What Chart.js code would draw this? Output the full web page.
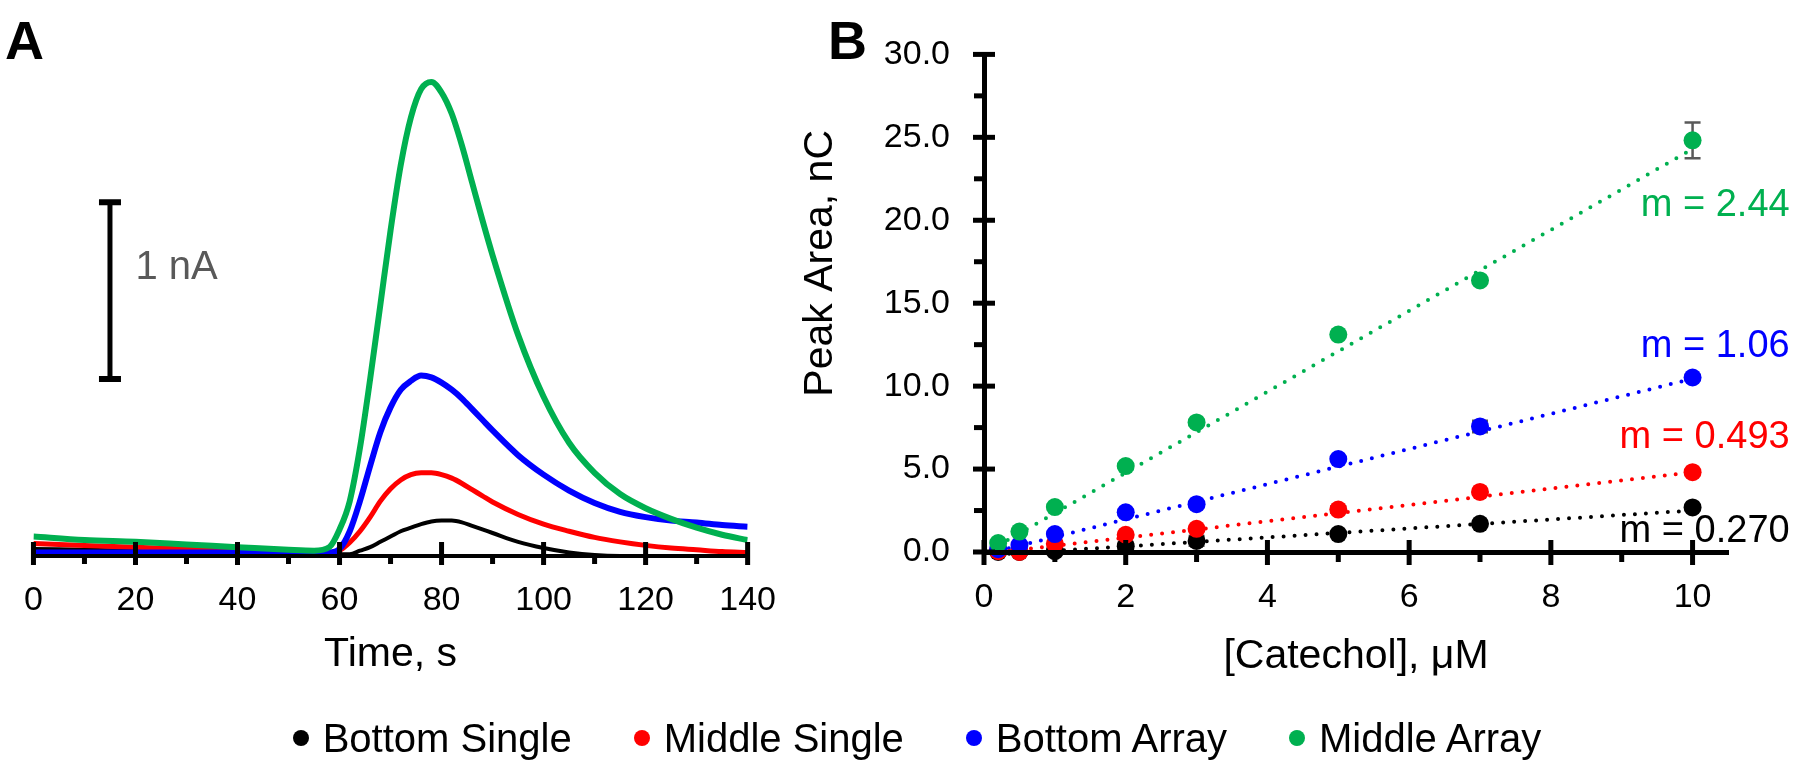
<!DOCTYPE html>
<html>
<head>
<meta charset="utf-8">
<title>Catechol</title>
<script src="https://cdn.jsdelivr.net/npm/chart.js@4.4.0/dist/chart.umd.min.js"></script>
<style>
    html, body { margin: 0; padding: 0; background: #fff; overflow: hidden; }
    #page { position: relative; width: 1800px; height: 765px; }
    #graphiqueA { position: absolute; left: 0; top: 0; }
    #graphiqueB { position: absolute; left: 780px; top: 0; }
    #legende {
        position: absolute; left: 17px; top: 715px; width: 1800px;
        display: flex; justify-content: center;
        font-family: 'Liberation Sans', Arial, sans-serif; font-size: 40px; line-height: 46px; color: #000;
    }
    .item { display: flex; align-items: center; margin: 0 31px; }
    .point { width: 16px; height: 16px; border-radius: 50%; margin-right: 14px; }
</style>
</head>
<body>
<div id="page">
    <canvas id="graphiqueA" width="800" height="765"></canvas>
    <canvas id="graphiqueB" width="1020" height="765"></canvas>
    <div id="legende"></div>
</div>
<script>
// séries communes
const nomsSeries = ['Bottom Single', 'Middle Single', 'Bottom Array', 'Middle Array'];
const couleurs = ['#000000', '#FF0000', '#0000FF', '#00B050'];

// panneau A : courant (nA) en fonction du temps (s)
const temps = [0, 10, 20, 30, 40, 50, 55, 58, 60, 62, 64, 66, 68, 70, 72, 74, 76, 78, 80, 82, 84, 86, 88, 90, 95, 100, 105, 110, 115, 120, 125, 130, 135, 140];
const courantBottomSingle = [0.04, 0.035, 0.03, 0.025, 0.02, 0.015, 0.01, 0.01, 0.01, 0.01, 0.03, 0.05, 0.08, 0.11, 0.14, 0.16, 0.18, 0.195, 0.2, 0.2, 0.19, 0.17, 0.15, 0.13, 0.08, 0.045, 0.02, 0.005, 0, 0, 0, 0, 0, 0];
const courantMiddleSingle = [0.07, 0.06, 0.05, 0.04, 0.03, 0.02, 0.02, 0.02, 0.03, 0.076, 0.14, 0.22, 0.31, 0.38, 0.43, 0.46, 0.47, 0.47, 0.46, 0.44, 0.41, 0.375, 0.34, 0.305, 0.235, 0.18, 0.14, 0.105, 0.08, 0.06, 0.045, 0.035, 0.025, 0.02];
const courantBottomArray = [0.02, 0.02, 0.02, 0.02, 0.02, 0.02, 0.02, 0.02, 0.04, 0.14, 0.31, 0.51, 0.7, 0.84, 0.94, 0.99, 1.02, 1.01, 0.98, 0.94, 0.89, 0.83, 0.77, 0.71, 0.57, 0.46, 0.37, 0.3, 0.25, 0.22, 0.2, 0.19, 0.175, 0.165];
const courantMiddleArray = [0.11, 0.09, 0.08, 0.065, 0.05, 0.035, 0.03, 0.05, 0.15, 0.31, 0.61, 1.0, 1.42, 1.84, 2.21, 2.48, 2.64, 2.68, 2.62, 2.5, 2.32, 2.11, 1.9, 1.7, 1.25, 0.9, 0.64, 0.47, 0.35, 0.27, 0.21, 0.16, 0.12, 0.09];
const ticksTemps = [0, 20, 40, 60, 80, 100, 120, 140];
const ticksTempsMineurs = [10, 30, 50, 70, 90, 110, 130];
// barre d'échelle : 1 nA
const echelleTemps = 15;
const echelleCourant = [1, 2];

// panneau B : aire du pic (nC) en fonction de [catéchol] (µM)
const concentrations = [0.2, 0.5, 1, 2, 3, 5, 7, 10];
const aireBottomSingle = [0.0, 0.0, 0.05, 0.35, 0.67, 1.08, 1.7, 2.69];
const aireMiddleSingle = [0.05, 0.0, 0.49, 1.04, 1.4, 2.56, 3.62, 4.81];
const aireBottomArray = [0.17, 0.42, 1.08, 2.39, 2.88, 5.6, 7.57, 10.52];
const aireMiddleArray = [0.54, 1.23, 2.71, 5.18, 7.81, 13.11, 16.37, 24.82];
const erreurBottomSingle = [0, 0, 0.15, 0.25, 0.3, 0.1, 0.1, 0.1];
const erreurMiddleSingle = [0, 0.1, 0.15, 0.1, 0.1, 0.2, 0.15, 0.1];
const erreurBottomArray = [0, 0.1, 0.1, 0.15, 0.1, 0.1, 0.35, 0.15];
const erreurMiddleArray = [0, 0.1, 0.15, 0.1, 0.15, 0.1, 0.1, 1.08];
const pentes = [0.270, 0.493, 1.06, 2.44];
const pentesTexte = ['0.270', '0.493', '1.06', '2.44'];
const ordonnees = [-0.2, -0.12, -0.15, -0.1];
const bornesTendance = [0.2, 10];
const etiquettesY = [1.25, 6.9, 12.4, 20.9];
const ticksConc = [0, 2, 4, 6, 8, 10];
const ticksConcMineurs = [1, 3, 5, 7, 9];
const ticksAire = [0, 5, 10, 15, 20, 25, 30];
const ticksAireMineurs = [2.5, 7.5, 12.5, 17.5, 22.5, 27.5];

const police = "'Liberation Sans', Arial, Helvetica, sans-serif";
Chart.defaults.font.family = police;
Chart.defaults.color = '#000';

/**
 * Dessine les graduations qui traversent l'axe (majeures) ou qui restent dehors (mineures)
 */
const graduations = {
    id: 'graduations',
    afterDraw(chart, args, opts) {
        const ctx = chart.ctx;
        const zone = chart.chartArea;
        ctx.save();
        ctx.strokeStyle = '#000';
        (opts.marques || []).forEach(m => {
            const echelle = chart.scales[m.axe];
            ctx.lineWidth = m.epaisseur;
            m.valeurs.forEach(v => {
                const p = echelle.getPixelForValue(v);
                ctx.beginPath();
                if (echelle.isHorizontal()) {
                    ctx.moveTo(p, zone.bottom - m.dedans);
                    ctx.lineTo(p, zone.bottom + m.dehors);
                } else {
                    ctx.moveTo(zone.left - m.dehors, p);
                    ctx.lineTo(zone.left + m.dedans, p);
                }
                ctx.stroke();
            });
        });
        ctx.restore();
    }
};

/**
 * Textes libres : positionnés en valeurs (axes) ou en pixels pour les lettres de panneau
 */
const textes = {
    id: 'textes',
    afterDraw(chart, args, opts) {
        const ctx = chart.ctx;
        ctx.save();
        (opts.liste || []).forEach(t => {
            let x = t.px, y = t.py;
            if (t.x !== undefined) {
                x = chart.scales.x.getPixelForValue(t.x);
                y = chart.scales.y.getPixelForValue(t.y);
            }
            ctx.font = t.police;
            ctx.fillStyle = t.couleur;
            ctx.textAlign = t.align || 'left';
            ctx.textBaseline = t.base || 'middle';
            ctx.fillText(t.texte, x, y);
        });
        ctx.restore();
    }
};

/**
 * Barre d'échelle verticale du panneau A
 */
const barreEchelle = {
    id: 'barreEchelle',
    afterDraw(chart, args, opts) {
        if (!opts.actif) return;
        const ctx = chart.ctx;
        const x = chart.scales.x.getPixelForValue(echelleTemps);
        const y1 = chart.scales.y.getPixelForValue(echelleCourant[0]);
        const y2 = chart.scales.y.getPixelForValue(echelleCourant[1]);
        ctx.save();
        ctx.strokeStyle = '#000';
        ctx.lineWidth = 5;
        ctx.beginPath();
        ctx.moveTo(x, y1); ctx.lineTo(x, y2);
        ctx.stroke();
        ctx.lineWidth = 6;
        ctx.beginPath();
        ctx.moveTo(x - 11, y1); ctx.lineTo(x + 11, y1);
        ctx.moveTo(x - 11, y2); ctx.lineTo(x + 11, y2);
        ctx.stroke();
        ctx.restore();
    }
};

/**
 * Barres d'erreur, dessinées sous les points
 */
const barresErreur = {
    id: 'barresErreur',
    beforeDatasetsDraw(chart) {
        const ctx = chart.ctx;
        ctx.save();
        ctx.strokeStyle = '#595959';
        ctx.lineWidth = 2.5;
        chart.data.datasets.forEach(ds => {
            if (!ds.erreurs) return;
            ds.data.forEach((pt, i) => {
                const e = ds.erreurs[i];
                if (!e) return;
                const x = chart.scales.x.getPixelForValue(pt.x);
                const yh = chart.scales.y.getPixelForValue(pt.y + e);
                const yb = chart.scales.y.getPixelForValue(pt.y - e);
                ctx.beginPath();
                ctx.moveTo(x, yh); ctx.lineTo(x, yb);
                ctx.moveTo(x - 8, yh); ctx.lineTo(x + 8, yh);
                ctx.moveTo(x - 8, yb); ctx.lineTo(x + 8, yb);
                ctx.stroke();
            });
        });
        ctx.restore();
    }
};

function points(xs, ys) {
    return xs.map((x, i) => ({x: x, y: ys[i]}));
}

// ---------- panneau A ----------
const courants = [courantBottomSingle, courantMiddleSingle, courantBottomArray, courantMiddleArray];
const epaisseursA = [4, 5, 6, 6];
const datasetsA = courants.map((c, i) => ({
    label: nomsSeries[i],
    data: points(temps, c),
    borderColor: couleurs[i],
    backgroundColor: couleurs[i],
    borderWidth: epaisseursA[i],
    pointRadius: 0,
    showLine: true,
    cubicInterpolationMode: 'monotone',
    order: 4 - i
}));

new Chart(document.getElementById('graphiqueA'), {
    type: 'scatter',
    data: {datasets: datasetsA},
    options: {
        responsive: false,
        animation: false,
        layout: {padding: {left: 30, right: 48, top: 20, bottom: 86}},
        plugins: {
            legend: {display: false},
            tooltip: {enabled: false},
            graduations: {marques: [
                {axe: 'x', valeurs: ticksTemps, dedans: 14, dehors: 9, epaisseur: 5},
                {axe: 'x', valeurs: ticksTempsMineurs, dedans: 0, dehors: 8, epaisseur: 5}
            ]},
            barreEchelle: {actif: true},
            textes: {liste: [
                {texte: 'A', px: 5, py: 59, base: 'alphabetic', police: 'bold 54px ' + police, couleur: '#000'},
                {texte: '1 nA', x: 20, y: 1.63, police: '40px ' + police, couleur: '#595959'}
            ]}
        },
        scales: {
            x: {
                type: 'linear', min: 0, max: 140,
                grid: {drawOnChartArea: false, drawTicks: false},
                border: {display: true, color: '#000', width: 4, z: 1},
                ticks: {stepSize: 20, includeBounds: false, padding: 24, maxRotation: 0, font: {size: 34}, color: '#000'},
                title: {display: true, text: 'Time, s', font: {size: 41}, color: '#000', padding: 0},
                afterFit: (s) => { s.height = 123; }
            },
            y: {display: false, min: 0, max: 3.03}
        }
    },
    plugins: [graduations, barreEchelle, textes]
});

// ---------- panneau B ----------
const aires = [aireBottomSingle, aireMiddleSingle, aireBottomArray, aireMiddleArray];
const erreurs = [erreurBottomSingle, erreurMiddleSingle, erreurBottomArray, erreurMiddleArray];
const datasetsB = [];
aires.forEach((a, i) => {
    datasetsB.push({
        label: nomsSeries[i],
        data: points(concentrations, a),
        erreurs: erreurs[i],
        backgroundColor: couleurs[i],
        borderColor: couleurs[i],
        pointRadius: 9,
        pointBorderWidth: 0,
        clip: false,
        order: 4 - i
    });
});
aires.forEach((a, i) => {
    datasetsB.push({
        label: 'tendance ' + nomsSeries[i],
        data: bornesTendance.map(x => ({x: x, y: pentes[i] * x + ordonnees[i]})),
        showLine: true,
        borderColor: couleurs[i],
        borderWidth: 4,
        borderDash: [0, 11],
        borderCapStyle: 'round',
        pointRadius: 0,
        clip: false,
        order: 10 + i
    });
});

const etiquettesPentes = pentesTexte.map((p, i) => ({
    texte: 'm = ' + p, x: 11.37, y: etiquettesY[i], align: 'right',
    police: '38px ' + police, couleur: couleurs[i]
}));
etiquettesPentes.push({texte: 'B', px: 48, py: 59, base: 'alphabetic', police: 'bold 54px ' + police, couleur: '#000'});

new Chart(document.getElementById('graphiqueB'), {
    type: 'scatter',
    data: {datasets: datasetsB},
    options: {
        responsive: false,
        animation: false,
        layout: {padding: {left: 16, right: 72, top: 23, bottom: 84}},
        plugins: {
            legend: {display: false},
            tooltip: {enabled: false},
            graduations: {marques: [
                {axe: 'x', valeurs: ticksConc, dedans: 12, dehors: 13, epaisseur: 5},
                {axe: 'x', valeurs: ticksConcMineurs, dedans: 0, dehors: 10, epaisseur: 5},
                {axe: 'y', valeurs: ticksAire, dedans: 11, dehors: 11, epaisseur: 5},
                {axe: 'y', valeurs: ticksAireMineurs, dedans: 0, dehors: 10, epaisseur: 5}
            ]},
            textes: {liste: etiquettesPentes}
        },
        scales: {
            x: {
                type: 'linear', min: 0, max: 10.5,
                grid: {drawOnChartArea: false, drawTicks: false},
                border: {display: true, color: '#000', width: 5, z: 1},
                ticks: {stepSize: 2, includeBounds: false, padding: 25, maxRotation: 0, font: {size: 34}, color: '#000'},
                title: {display: true, text: '[Catechol], μM', font: {size: 41}, color: '#000', padding: 0},
                afterFit: (s) => { s.height = 129; }
            },
            y: {
                type: 'linear', min: 0, max: 30,
                grid: {drawOnChartArea: false, drawTicks: false},
                border: {display: true, color: '#000', width: 5, z: 1},
                ticks: {stepSize: 5, includeBounds: false, padding: 34, font: {size: 34}, color: '#000',
                    callback: (v) => v.toFixed(1)},
                // espaces en tête : le titre remonte un peu le long de l'axe, comme sur l'original
                title: {display: true, text: '       Peak Area, nC', font: {size: 41}, color: '#000', padding: 0},
                afterFit: (s) => { s.width = 188; }
            }
        }
    },
    plugins: [graduations, barresErreur, textes]
});

// ---------- légende commune ----------
const legende = document.getElementById('legende');
nomsSeries.forEach((nom, i) => {
    const item = document.createElement('div');
    item.className = 'item';
    const point = document.createElement('span');
    point.className = 'point';
    point.style.background = couleurs[i];
    const texte = document.createElement('span');
    texte.textContent = nom;
    item.appendChild(point);
    item.appendChild(texte);
    legende.appendChild(item);
});
</script>
</body>
</html>
